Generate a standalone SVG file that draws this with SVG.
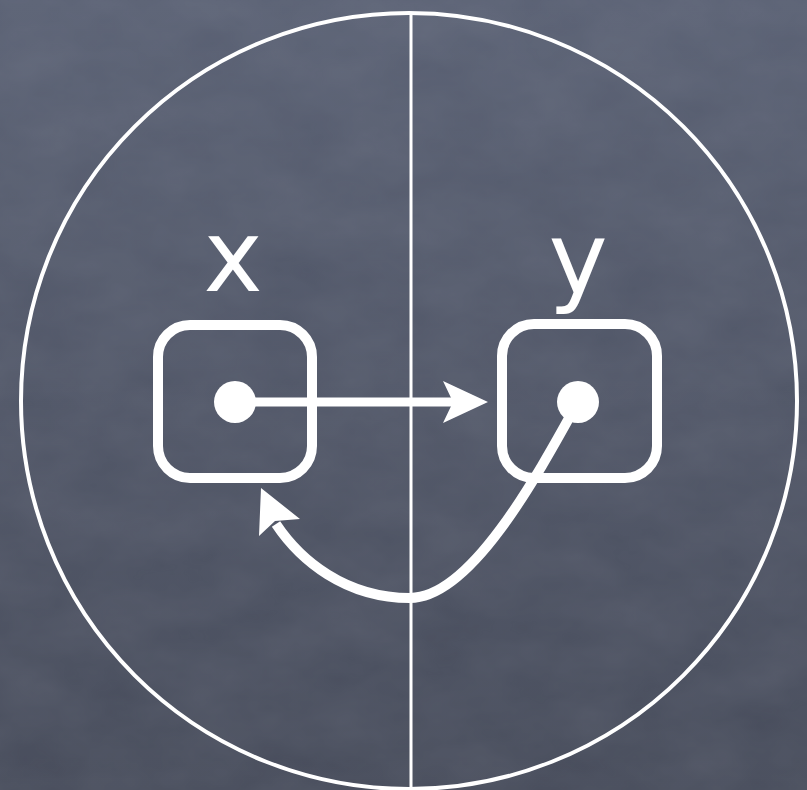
<svg xmlns="http://www.w3.org/2000/svg" width="807" height="790" viewBox="0 0 807 790">
  <defs>
    <linearGradient id="bg" x1="0" y1="0" x2="0" y2="1">
      <stop offset="0" stop-color="#596073"/>
      <stop offset="1" stop-color="#464b5a"/>
    </linearGradient>
    <filter id="noise" x="0" y="0" width="100%" height="100%">
      <feTurbulence type="fractalNoise" baseFrequency="0.012 0.02" numOctaves="4" seed="3"/>
      <feColorMatrix type="matrix" values="0 0 0 0 0.5  0 0 0 0 0.52  0 0 0 0 0.58  0 0 0 0.25 0"/>
    </filter>
    <style>
      .w { fill: none; stroke: #ffffff; }
      .box { fill: none; stroke: #ffffff; stroke-width: 10; }
      .dot { fill: #ffffff; }
      .lbl { fill: #ffffff; font-family: "DejaVu Sans", "Liberation Sans", sans-serif; font-size: 100px; text-anchor: middle; }
      .head { fill: #ffffff; }
    </style>
  </defs>
  <rect width="807" height="790" fill="url(#bg)"/>
  <rect width="807" height="790" filter="url(#noise)" opacity="0.5"/>

  <g id="frame">
    <circle class="w" cx="409" cy="401" r="388" stroke-width="4"/>
    <line class="w" x1="411" y1="14" x2="411" y2="790" stroke-width="3"/>
  </g>

  <g id="node-x">
    <rect class="box" x="158" y="325" width="154" height="153" rx="32"/>
    <circle class="dot" cx="235" cy="402" r="21"/>
    <text class="lbl" x="233" y="291">x</text>
  </g>

  <g id="node-y">
    <rect class="box" x="502" y="324" width="155" height="154" rx="32"/>
    <circle class="dot" cx="578" cy="402" r="21"/>
    <text class="lbl" x="578" y="293">y</text>
  </g>

  <g id="connectors">
    <line class="w" x1="235" y1="402" x2="454" y2="402" stroke-width="9"/>
    <polygon class="head" points="488,402 443,381 453,402 443,423"/>
    <path class="w" d="M578,402 C535,480 470,598 410,598 C345,598 300,560 276,524" stroke-width="10"/>
    <polygon class="head" points="261,488 300,519 275,521 259,536"/>
  </g>
</svg>
